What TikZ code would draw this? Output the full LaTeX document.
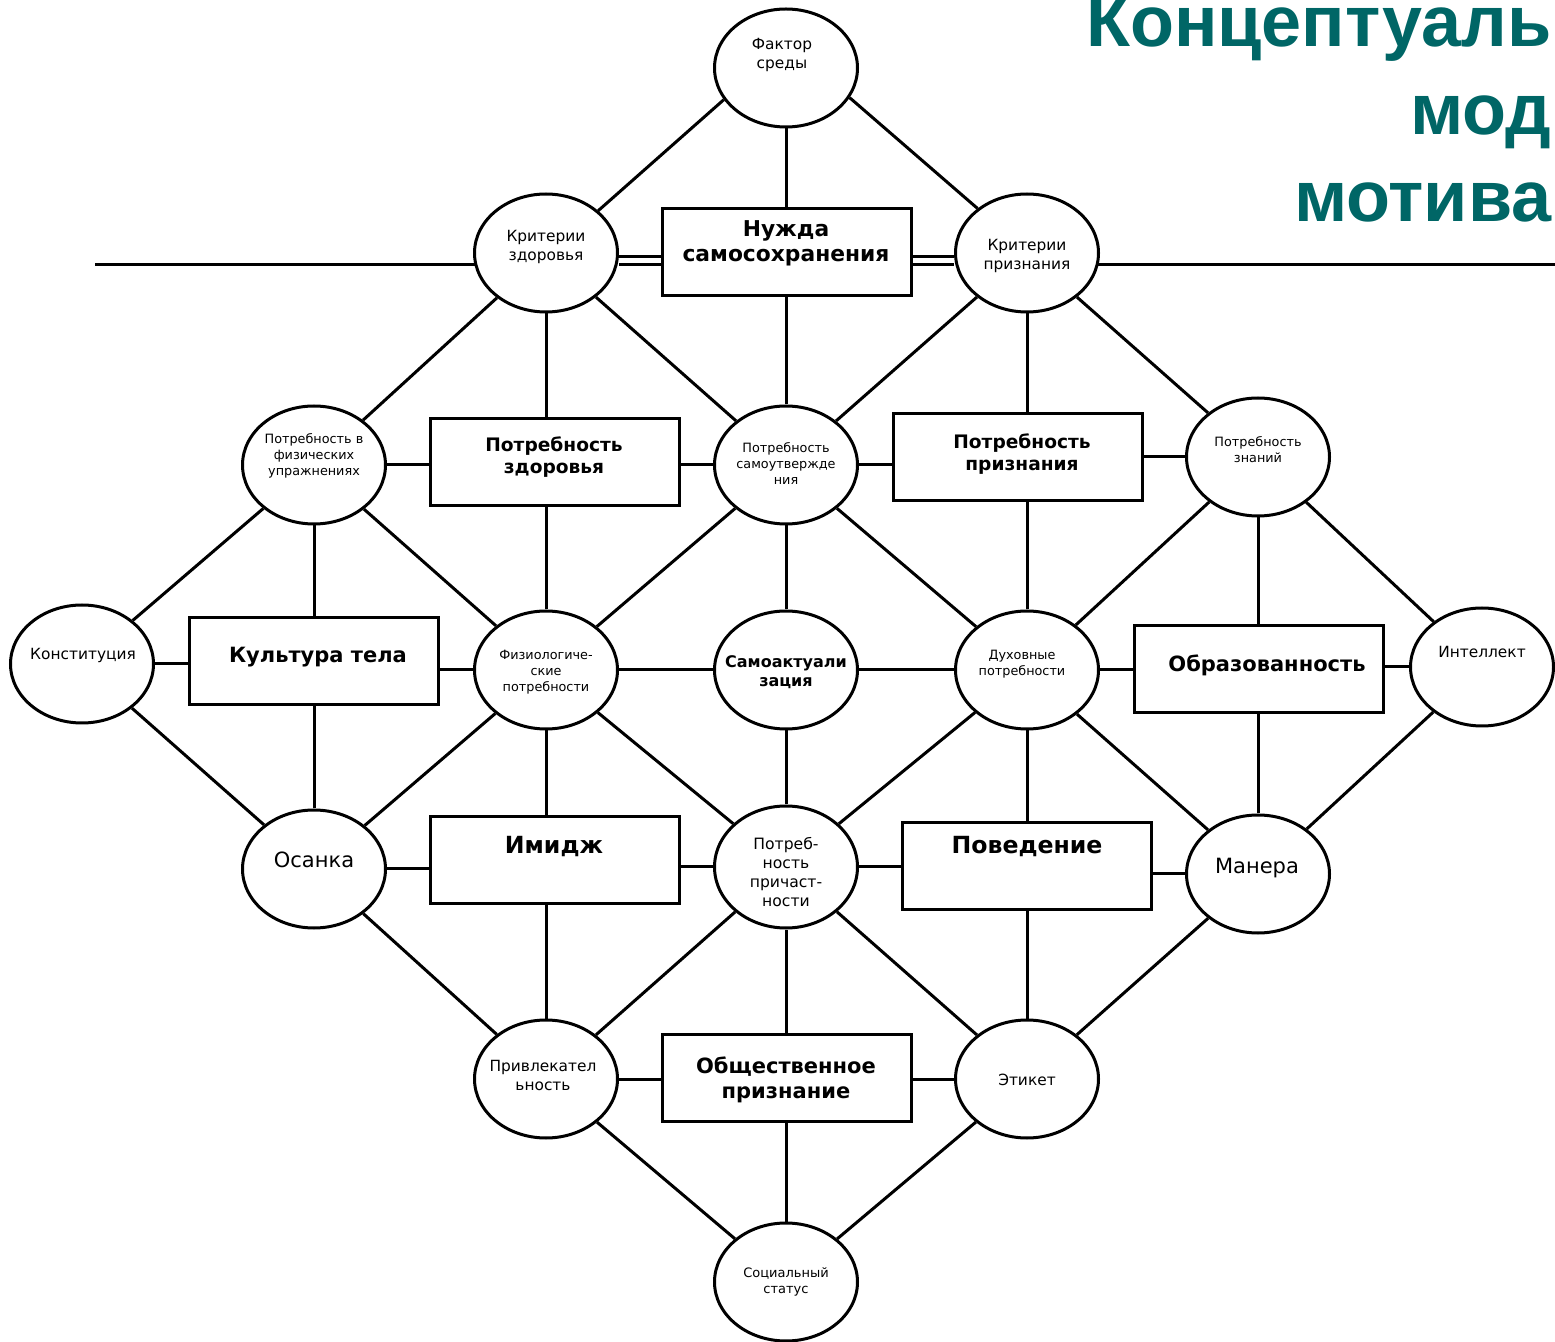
\documentclass[tikz,border=0pt]{standalone}
\usepackage{fontspec}
\newfontfamily\vf{DejaVu Sans}
\newfontfamily\ttl{Liberation Sans}
\usetikzlibrary{shapes.geometric}
\definecolor{teal6}{HTML}{006666}
\begin{document}
\begin{tikzpicture}[x=0.5pt,y=-0.5pt, line width=1.5pt,
 ell/.style={draw, ellipse, minimum width=71.5pt, minimum height=59pt, inner sep=0pt},
 box/.style={draw, rectangle, minimum width=124.5pt, minimum height=43.5pt, inner sep=0pt},
 tx/.style={align=center, inner sep=0pt},
 sm/.style={tx, font=\vf\fontsize{6.4}{8}\selectfont},
 ss/.style={tx, font=\vf\fontsize{6.5}{8}\selectfont},
 md/.style={tx, font=\vf\fontsize{7.7}{9.5}\selectfont},
 pm/.style={tx, font=\vf\fontsize{7.8}{9.5}\selectfont},
 lg/.style={tx, font=\vf\fontsize{10.5}{12}\selectfont},
 beight/.style={tx, font=\vf\bfseries\fontsize{8}{9.5}\selectfont},
 bnine/.style={tx, font=\vf\bfseries\fontsize{9.3}{11}\selectfont},
 bten/.style={tx, font=\vf\bfseries\fontsize{10.5}{12.5}\selectfont},
 btenb/.style={tx, font=\vf\bfseries\fontsize{10.9}{12.5}\selectfont},
 beleven/.style={tx, font=\vf\bfseries\fontsize{11.8}{13}\selectfont},
 ttx/.style={anchor=base east, inner sep=0pt, text=teal6, font=\ttl\bfseries\fontsize{36}{40}\selectfont},
 dbl/.style={double, double distance=2.5pt}
]
\useasboundingbox (0,0) rectangle (1555,1342);
% ellipses
\node[ell] (fs) at (786,68) {};
\node[ell] (kz) at (546,253) {};
\node[ell] (kp) at (1027,253) {};
\node[ell] (pf) at (314,465) {};
\node[ell] (ps) at (786,465) {};
\node[ell] (pzn) at (1258,457) {};
\node[ell] (ko) at (82,664) {};
\node[ell] (fp) at (546,670) {};
\node[ell] (sa) at (786,670) {};
\node[ell] (dp) at (1027,670) {};
\node[ell] (in) at (1482,667) {};
\node[ell] (os) at (314,869) {};
\node[ell, minimum height=61pt] (pr) at (786,867) {};
\node[ell] (ma) at (1258,874) {};
\node[ell] (pl) at (546,1079) {};
\node[ell] (et) at (1027,1079) {};
\node[ell] (sst) at (786,1282) {};
% boxes
\node[box] (nz) at (786.5,252.5) {};
\node[box] (pzd) at (554.5,462.5) {};
\node[box] (ppr) at (1018,457) {};
\node[box] (kt) at (313.5,661) {};
\node[box] (ob) at (1258.5,669) {};
\node[box] (im) at (554.5,860) {};
\node[box] (pov) at (1027,866) {};
\node[box] (op) at (786.5,1078) {};
% texts
\node[md] (tfs) at (782,55) {Фактор\\среды};
\node[md] (tkz) at (546,247) {Критерии\\здоровья};
\node[md] (tkp) at (1027,256) {Критерии\\признания};
\node[sm] (tpf) at (314,456) {Потребность в\\физических\\упражнениях};
\node[sm] (tps) at (786,464) {Потребность\\самоутвержде\\ния};
\node[sm] (tpzn) at (1258,450) {Потребность\\знаний};
\node[md] (tko) at (83,655) {Конституция};
\node[sm] (tfp) at (546,672) {Физиологиче-\\ские\\потребности};
\node[beight] (tsa) at (786,672) {Самоактуали\\зация};
\node[sm] (tdp) at (1022,664) {Духовные\\потребности};
\node[md] (tin) at (1482,652) {Интеллект};
\node[lg] (tos) at (314,860) {Осанка};
\node[pm] (tpr) at (786,872) {Потреб-\\ность\\причаст-\\ности};
\node[lg] (tma) at (1257,868) {Манера};
\node[md] (tpl) at (543,1075) {Привлекател\\ьность};
\node[md] (tet) at (1027,1080) {Этикет};
\node[ss] (tss) at (786,1282) {Социальный\\статус};
\node[btenb] (tnz) at (786,243) {Нужда\\самосохранения};
\node[bnine] (tpzd) at (554,457) {Потребность\\здоровья};
\node[bnine] (tppr) at (1022,454) {Потребность\\признания};
\node[bten] (tkt) at (318,657) {Культура тела};
\node[bten] (tob) at (1267,665) {Образованность};
\node[beleven] (tim) at (554,847) {Имидж};
\node[beleven] (tpov) at (1027,847) {Поведение};
\node[bten] (top) at (786,1080) {Общественное\\признание};
% title
\node[ttx] (t1) at (1553,47) {Концептуаль};
\node[ttx] (t2) at (1553,135) {мод};
\node[ttx] (t3) at (1553,222) {мотива};
% top connectors
\draw (fs.207) -- (kz.39); \draw (fs.south) -- (fs.south |- nz.north); \draw (fs.335) -- (kp.138);
\draw[dbl] ([yshift=-4pt]kz.east) -- ([yshift=-4pt]kz.east -| nz.west);
\draw[dbl] ([yshift=-4pt]kp.west) -- ([yshift=-4pt]kp.west -| nz.east);
\coordinate (hl) at (95,265);
\coordinate (hr) at (1555,265);
\draw (hl) -- ([xshift=1pt]hl -| kz.west);
\draw (hr) -- ([xshift=-1pt]hr -| kp.east);
% row 1 down
\draw (kz) -- (pf); \draw (kz.south) -- (kz.south |- pzd.north); \draw (kz) -- (ps);
\draw (ps.north |- nz.south) -- (ps.north);
\draw (kp) -- (ps); \draw (kp.south) -- (kp.south |- ppr.north); \draw (kp) -- (pzn);
% row 2 horizontal
\draw (pf.east) -- (pf.east -| pzd.west);
\draw (ps.west) -- (ps.west -| pzd.east);
\draw (ps.east) -- (ps.east -| ppr.west);
\draw (pzn.west) -- (pzn.west -| ppr.east);
% row 2 down
\draw (pf) -- (ko); \draw (pf.south) -- (pf.south |- kt.north); \draw (pf) -- (fp);
\draw (fp.north) -- (fp.north |- pzd.south);
\draw (ps) -- (fp); \draw (ps) -- (sa); \draw (ps) -- (dp);
\draw (dp.north) -- (dp.north |- ppr.south);
\draw (pzn) -- (dp); \draw (pzn.south) -- (pzn.south |- ob.north); \draw (pzn) -- (in);
% row 3 horizontal
\draw (ko.east) -- (ko.east -| kt.west);
\draw (fp.west) -- (fp.west -| kt.east);
\draw (fp) -- (sa); \draw (sa) -- (dp);
\draw (dp.east) -- (dp.east -| ob.west);
\draw (in.west) -- (in.west -| ob.east);
% row 3 down
\draw (ko) -- (os); \draw (os.north) -- (os.north |- kt.south);
\draw (fp) -- (os); \draw (fp.south) -- (fp.south |- im.north); \draw (fp) -- (pr);
\draw (sa) -- (pr);
\draw (dp) -- (pr); \draw (dp.south) -- (dp.south |- pov.north); \draw (dp) -- (ma);
\draw (ma.north) -- (ma.north |- ob.south); \draw (in) -- (ma);
% row 4 horizontal
\draw (os.east) -- (os.east -| im.west);
\draw (pr.west) -- (pr.west -| im.east);
\draw (pr.east) -- (pr.east -| pov.west);
\draw (ma.west) -- (ma.west -| pov.east);
% row 4 down
\draw (os) -- (pl); \draw (pl.north) -- (pl.north |- im.south);
\draw (pr) -- (pl); \draw (pr.south) -- (pr.south |- op.north); \draw (pr) -- (et);
\draw (et.north) -- (et.north |- pov.south); \draw (ma) -- (et);
% row 5
\draw (pl.east) -- (pl.east -| op.west);
\draw (et.west) -- (et.west -| op.east);
\draw (pl) -- (sst); \draw (sst.north |- op.south) -- (sst.north); \draw (et) -- (sst);
\end{tikzpicture}
\end{document}
